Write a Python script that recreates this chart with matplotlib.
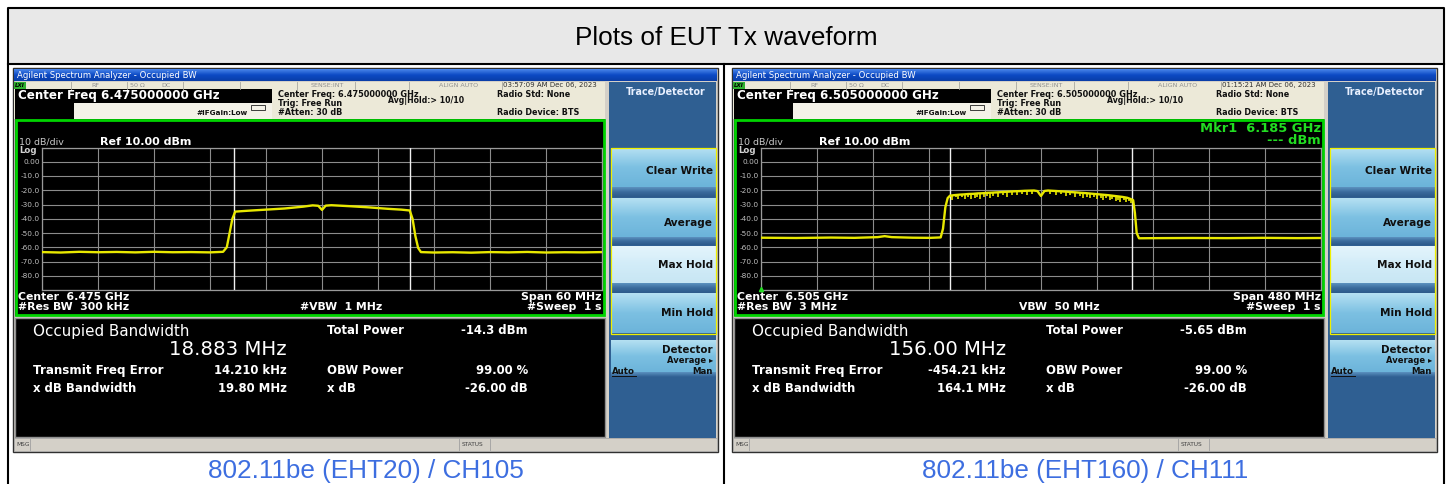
import numpy as np
import matplotlib
matplotlib.use("Agg")
import matplotlib.pyplot as plt
from matplotlib.patches import Rectangle
from matplotlib.colors import to_rgb

plt.rcParams['font.family'] = ['DejaVu Sans']

W, H = 1450, 484

# ---- data ----
captions = ['802.11be (EHT20) / CH105', '802.11be (EHT160) / CH111']
center_ghz = [6.475, 6.505]
span_mhz = [60, 480]
res_bw = ['300 kHz', '3 MHz']
vbw = ['#VBW  1 MHz', 'VBW  50 MHz']
timestamps = ['03:57:09 AM Dec 06, 2023', '01:15:21 AM Dec 06, 2023']
obw_text = ['18.883 MHz', '156.00 MHz']
obw_mhz = [18.883, 156.00]
total_power = ['-14.3 dBm', '-5.65 dBm']
freq_error = ['14.210 kHz', '-454.21 kHz']
xdb_bw = ['19.80 MHz', '164.1 MHz']
obw_power = ['99.00 %', '99.00 %']
x_db = ['-26.00 dB', '-26.00 dB']
softkeys = ['Clear Write', 'Average', 'Max Hold', 'Min Hold']
y_ticks = [10, 0, -10, -20, -30, -40, -50, -60, -70, -80, -90]

# EHT20 trace: offset from centre (MHz), level (dBm)
t1_freq = [-30, -28, -26, -24, -22, -20, -18, -16, -14, -12, -10.6, -10.2, -9.9, -9.6, -9.3,
           -8, -6, -4, -2, -1, -0.4, 0.0, 0.4, 1, 3, 5, 7, 8.5, 9.4,
           9.7, 10.0, 10.3, 10.6, 12, 14, 16, 18, 20, 22, 24, 26, 28, 30]
t1_level = [-63.4, -63.7, -63.2, -63.5, -63.3, -63.6, -63.2, -63.5, -63.4, -63.6, -63.2, -60.0, -50.0, -40.0, -35.0,
            -34.4, -33.6, -32.8, -31.5, -30.6, -30.9, -33.8, -30.8, -30.5, -31.2, -32.0, -33.0, -33.6, -34.2,
            -40.0, -52.0, -60.5, -63.4, -63.7, -63.5, -63.8, -63.4, -63.6, -63.3, -63.7, -63.5, -63.6, -63.4]

# EHT160 trace (max envelope): offset from centre (MHz), level (dBm)
t2_freq = [-240, -210, -180, -160, -140, -134, -128, -110, -95, -86, -84, -82, -80, -78,
           -74, -70, -66, -62, -58, -54, -50, -46, -42, -38, -34, -30, -26, -22, -18, -14, -10,
           -6, -3, -1.5, 0, 1.5, 3, 6, 10, 14, 18, 22, 26, 30, 34, 38, 42, 46, 50, 54, 58, 62,
           66, 70, 74, 77, 79, 80.5, 82, 84, 100, 130, 160, 190, 220, 240]
t2_level = [-53.3, -53.5, -53.2, -53.4, -52.9, -52.2, -52.9, -53.3, -53.4, -53.1, -47.0, -32.0, -25.5, -23.8,
            -23.4, -23.1, -22.9, -22.6, -22.5, -22.2, -22.1, -21.8, -21.7, -21.5, -21.3, -21.1, -20.9, -20.7, -20.6, -20.4, -20.3,
            -20.2, -20.6, -22.4, -24.0, -22.2, -20.5, -20.2, -20.4, -20.6, -20.8, -21.0, -21.3, -21.5, -21.8, -22.0, -22.3, -22.6, -22.9, -23.2, -23.5, -23.9,
            -24.3, -24.7, -25.3, -26.2, -27.0, -36.0, -50.0, -53.7, -53.6, -53.5, -53.6, -53.4, -53.6, -53.5]

# EHT160 trace: downward noise spikes (MHz, spike top dBm, spike bottom dBm)
sp_freq = [-76, -73, -71, -68, -65, -63, -60, -57, -55, -52, -49, -46, -44, -41, -37, -33, -29, -25,
           -21, -16, -12, -8, 8, 13, 17, 21, 25, 29, 33, 36, 39, 42, 45, 48, 51, 53, 56, 59, 61,
           64, 66, 68, 71, 73, 75, 77]
sp_top = [-23.5, -23.3, -23.2, -23.0, -22.9, -22.8, -22.6, -22.5, -22.5, -22.3, -22.1, -21.9, -21.8, -21.7, -21.5, -21.3, -21.1, -20.9,
          -20.7, -20.5, -20.4, -20.3, -20.3, -20.6, -20.8, -21.0, -21.3, -21.4, -21.7, -21.9, -22.0, -22.2, -22.5, -22.7, -22.8, -23.0, -23.3, -23.5, -23.7,
          -24.0, -24.2, -24.5, -24.7, -25.0, -25.4, -26.0]
sp_bottom = [-26.5, -25.0, -26.2, -24.8, -25.9, -24.6, -26.0, -25.1, -24.4, -25.8, -24.9, -24.2, -25.4, -23.8, -24.6, -23.5, -24.4, -23.0,
             -23.3, -22.8, -23.6, -22.4, -22.5, -23.4, -22.9, -24.1, -23.2, -24.6, -23.9, -25.2, -24.4, -25.6, -24.8, -26.0, -25.3, -26.8, -25.7, -27.0, -26.1,
             -27.6, -26.5, -28.0, -27.0, -28.3, -27.8, -28.8]

traces = [(t1_freq, t1_level), (t2_freq, t2_level)]


def rect(ax, x0, y0, x1, y1, fc, ec='none', lw=0, z=1):
    ax.add_patch(Rectangle((x0, y0), x1 - x0, y1 - y0, facecolor=fc,
                           edgecolor=ec, linewidth=lw, zorder=z))


def grad(ax, x0, y0, x1, y1, colors, z=1):
    # vertical gradient through the given colours
    cs = [np.array(to_rgb(c)) for c in colors]
    n = 40
    rows = []
    for i in range(n):
        t = i / (n - 1) * (len(cs) - 1)
        k = min(int(t), len(cs) - 2)
        f = t - k
        rows.append(cs[k] * (1 - f) + cs[k + 1] * f)
    img = np.array(rows)[:, None, :]
    ax.imshow(img, extent=(x0, x1, y1, y0), aspect='auto', zorder=z,
              interpolation='bilinear')


def txt(ax, x, y, s, size=6, color='white', weight='normal', ha='left', **kw):
    ax.text(x, y, s, fontsize=size, color=color, fontweight=weight,
            ha=ha, va='center', zorder=5, **kw)


def fa(x0, y0, x1, y1):
    return [x0 / W, 1 - y1 / H, (x1 - x0) / W, (y1 - y0) / H]


fig = plt.figure(figsize=(W / 100, H / 100), dpi=100)
bg = fig.add_axes([0, 0, 1, 1])
bg.set_xlim(0, W)
bg.set_ylim(H, 0)
bg.axis('off')

# table frame
rect(bg, 8, 8, 1444, 64, '#e8e8e8')
bg.plot([8, 1444, 1444, 8, 8], [H + 5, H + 5, 8, 8, H + 5], color='black', lw=1.5, zorder=6)
bg.plot([8, 1444], [64, 64], color='black', lw=1.5, zorder=6)
bg.plot([724, 724], [64, H + 5], color='black', lw=1.5, zorder=6)
txt(bg, 726, 38, 'Plots of EUT Tx waveform', size=18.8, color='black', ha='center',
    family=['Liberation Sans'])

ink = '#101010'
for p in range(2):
    dx = 0 if p == 0 else 719
    X = lambda v: v + dx

    # screenshot body
    rect(bg, X(13), 68, X(718), 452, '#d4d0c8', ec='#303030', lw=1)
    grad(bg, X(14), 69, X(717), 81, ['#4a86ea', '#0c49c4', '#0a3ea8'])
    txt(bg, X(17), 75.5, 'Agilent Spectrum Analyzer - Occupied BW', size=6.1)

    # status row
    rect(bg, X(14), 81.5, X(605), 89.3, '#ece9d8')
    rect(bg, X(14), 81.5, X(26), 89.3, '#30b030')
    txt(bg, X(15), 85.5, 'LXI', size=4, color='black', weight='bold', style='italic')
    for sx in [71, 127, 183, 240, 297, 355, 409, 502]:
        bg.plot([X(sx), X(sx)], [81.5, 89.3], color='#a8a8a0', lw=0.6, zorder=4)
    for sx, s in [(95, 'RF'), (137, '50 Ω'), (166, 'DC'), (327, 'SENSE:INT'), (459, 'ALIGN AUTO')]:
        txt(bg, X(sx), 85.5, s, size=4.6, color='#909090', ha='center')
    txt(bg, X(503), 85.5, timestamps[p], size=5.0, color='#303030')

    # header
    rect(bg, X(14), 89.3, X(605), 119, '#ece9d8')
    rect(bg, X(74), 102.7, X(272), 119, '#f4f2e8')
    rect(bg, X(15), 89.3, X(272), 102.7, 'black')
    rect(bg, X(15), 102.7, X(74), 119, 'black')
    txt(bg, X(18), 96, 'Center Freq %.9f GHz' % center_ghz[p], size=8.6, weight='bold')
    txt(bg, X(197), 113.3, '#IFGain:Low', size=5.2, color=ink, weight='bold')
    rect(bg, X(251), 105, X(265), 110, 'none', ec='#202020', lw=0.6, z=4)
    txt(bg, X(278), 94.3, 'Center Freq: %.9f GHz' % center_ghz[p], size=5.9, color=ink, weight='bold')
    txt(bg, X(278), 103.3, 'Trig: Free Run', size=5.9, color=ink, weight='bold')
    txt(bg, X(278), 112.3, '#Atten: 30 dB', size=5.9, color=ink, weight='bold')
    txt(bg, X(388), 100.7, 'Avg|Hold:> 10/10', size=5.6, color=ink, weight='bold')
    txt(bg, X(497), 94.3, 'Radio Std: None', size=5.8, color=ink, weight='bold')
    txt(bg, X(497), 112.3, 'Radio Device: BTS', size=5.8, color=ink, weight='bold')

    # graph area
    rect(bg, X(15), 119, X(605), 316, 'black')
    rect(bg, X(16), 120, X(604), 315, 'none', ec='#00d400', lw=2, z=4)
    txt(bg, X(19), 142, '10 dB/div', size=6.8, color='#c8c8c8')
    txt(bg, X(100), 141.7, 'Ref 10.00 dBm', size=8, weight='bold')
    txt(bg, X(19), 150.5, 'Log', size=6.2, color='#d0d0d0', weight='bold')
    txt(bg, X(18), 297, 'Center  %.3f GHz' % center_ghz[p], size=7.8, weight='bold')
    txt(bg, X(18), 307.5, '#Res BW  ' + res_bw[p], size=7.8, weight='bold')
    txt(bg, X(300), 307.5, vbw[p], size=7.8, weight='bold')
    txt(bg, X(602), 297, 'Span %d MHz' % span_mhz[p], size=7.9, weight='bold', ha='right')
    txt(bg, X(602), 307.5, '#Sweep  1 s', size=7.8, weight='bold', ha='right')
    if p == 1:
        txt(bg, X(602), 128, 'Mkr1  6.185 GHz', size=9.4, color='#22dd22', weight='bold', ha='right')
        txt(bg, X(602), 140, '--- dBm', size=9.4, color='#22dd22', weight='bold', ha='right')
        txt(bg, X(46), 153.5, '1', size=6.4, color='#e8e800', weight='bold')

    # results
    rect(bg, X(15), 318, X(605), 437, 'black', ec='#909090', lw=1)
    txt(bg, X(33), 331.5, 'Occupied Bandwidth', size=10.9)
    txt(bg, X(287), 349.5, obw_text[p], size=14.2, ha='right')
    txt(bg, X(327), 330, 'Total Power', size=8.4, weight='bold')
    txt(bg, X(528), 330, total_power[p], size=8.4, weight='bold', ha='right')
    txt(bg, X(33), 370.5, 'Transmit Freq Error', size=8.6, weight='bold')
    txt(bg, X(287), 370.5, freq_error[p], size=8.4, weight='bold', ha='right')
    txt(bg, X(327), 370.5, 'OBW Power', size=8.4, weight='bold')
    txt(bg, X(528), 370.5, obw_power[p], size=8.4, weight='bold', ha='right')
    txt(bg, X(33), 388, 'x dB Bandwidth', size=8.4, weight='bold')
    txt(bg, X(287), 388, xdb_bw[p], size=8.4, weight='bold', ha='right')
    txt(bg, X(327), 388, 'x dB', size=8.4, weight='bold')
    txt(bg, X(528), 388, x_db[p], size=8.4, weight='bold', ha='right')

    # msg bar
    rect(bg, X(14), 438, X(717), 451, '#d4d0c8', ec='#a0a0a0', lw=0.5)
    txt(bg, X(16), 444.5, 'MSG', size=4.2, color='#404040')
    txt(bg, X(462), 444.5, 'STATUS', size=4.2, color='#404040')
    for sx in [30, 459, 490]:
        bg.plot([X(sx), X(sx)], [439, 450], color='#a0a0a0', lw=0.6, zorder=4)

    # softkey panel
    rect(bg, X(609), 82, X(716), 438, '#2f5f92')
    txt(bg, X(666), 92, 'Trace/Detector', size=6.9, weight='bold', ha='center', color='#e8f0ff')
    keys_y = [(148.5, 187, 197), (198, 237, 245), (246, 283, 293), (293.5, 333, 333)]
    for i, (y0, y1, y2) in enumerate(keys_y):
        if softkeys[i] == 'Max Hold':
            grad(bg, X(611), y0, X(716), y1, ['#e4f5fc', '#d2ecf8', '#c8e6f4'], z=2)
        else:
            grad(bg, X(611), y0, X(716), y1, ['#b4e0f2', '#7cc0e2', '#6cb4da'], z=2)
        if y2 > y1:
            grad(bg, X(611), y1, X(716), y2, ['#5c92c0', '#3a6a9c', '#2c5a8a'], z=2)
        txt(bg, X(713), [171, 223.3, 265, 313][i], softkeys[i], size=7.6, color=ink, weight='bold', ha='right')
    rect(bg, X(611), 148, X(716), 333.5, 'none', ec='#f0f000', lw=0.9, z=4)
    grad(bg, X(611), 340, X(716), 372, ['#b4e0f2', '#7cc0e2', '#6cb4da'], z=2)
    grad(bg, X(611), 372, X(716), 377, ['#5c92c0', '#2f5f92'], z=2)
    txt(bg, X(713), 350, 'Detector', size=7.4, color=ink, weight='bold', ha='right')
    txt(bg, X(713), 360.5, 'Average ▸', size=6.0, color=ink, weight='bold', ha='right')
    txt(bg, X(611.5), 371.5, 'Auto', size=6.2, color=ink, weight='bold')
    bg.plot([X(612), X(636)], [375.5, 375.5], color=ink, lw=0.7, zorder=5)
    txt(bg, X(713), 371.5, 'Man', size=6.2, color=ink, weight='bold', ha='right')

    # caption
    txt(bg, X(366), 471, captions[p], size=18.8, color='#3d6ee0', ha='center',
        family=['Liberation Sans'])

    # spectrum plot
    ax = fig.add_axes(fa(X(42), 147.5, X(602), 290))
    ax.set_facecolor('black')
    half = span_mhz[p] / 2
    ax.set_xlim(-half, half)
    ax.set_ylim(-90, 10)
    ax.set_xticks(np.linspace(-half, half, 11))
    ax.set_yticks(y_ticks)
    ax.set_yticklabels(['' if v in (10, -90) else ('0.00' if v == 0 else '%.1f' % v) for v in y_ticks])
    ax.tick_params(axis='y', length=0, pad=1.5, labelsize=5.3, labelcolor='#c0c0c0')
    ax.tick_params(axis='x', length=0, labelbottom=False)
    ax.grid(True, color='#8c8c8c', lw=0.8)
    for s in ax.spines.values():
        s.set_color('#9a9a9a')
        s.set_linewidth(0.9)
    for e in (-obw_mhz[p] / 2, obw_mhz[p] / 2):
        ax.axvline(e, color='#f0f0f0', lw=1.0, zorder=3)
    f, lv = traces[p]
    ax.plot(f, lv, color='#e8e800', lw=1.7, zorder=4)
    if p == 1:
        ax.vlines(sp_freq, sp_bottom, sp_top, color='#e8e800', lw=1.2, zorder=4)
        ax.plot([-half], [-89], marker='^', ms=3, color='#22dd22', clip_on=False, zorder=5)

fig.savefig('out.png', dpi=100)
